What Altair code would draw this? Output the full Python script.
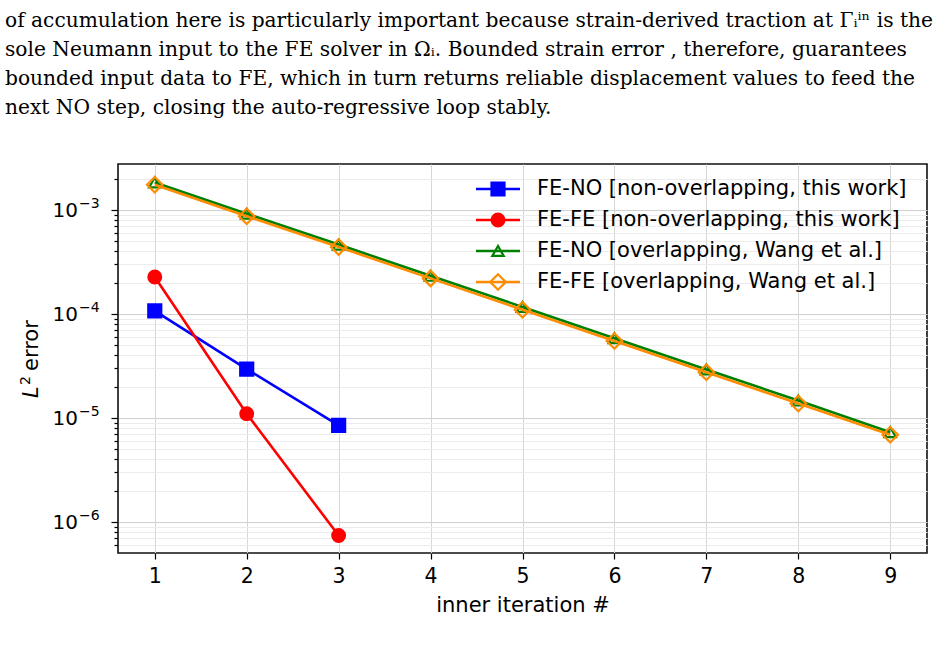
import altair as alt
import pandas as pd

# ---- data -----------------------------------------------------------------
SERIES = [
    "FE-NO [non-overlapping, this work]",
    "FE-FE [non-overlapping, this work]",
    "FE-NO [overlapping, Wang et al.]",
    "FE-FE [overlapping, Wang et al.]",
]
iters_short = [1, 2, 3]
iters_long = [1, 2, 3, 4, 5, 6, 7, 8, 9]

fe_no_nonoverlap = [1.07e-4, 2.95e-5, 8.5e-6]
fe_fe_nonoverlap = [2.27e-4, 1.1e-5, 7.4e-7]
fe_no_overlap = [1.84e-3, 9.2e-4, 4.65e-4, 2.33e-4, 1.17e-4, 5.85e-5, 2.93e-5, 1.47e-5, 7.3e-6]
fe_fe_overlap = [1.75e-3, 8.7e-4, 4.4e-4, 2.2e-4, 1.1e-4, 5.5e-5, 2.75e-5, 1.38e-5, 6.9e-6]

series_data = [
    (SERIES[0], iters_short, fe_no_nonoverlap),
    (SERIES[1], iters_short, fe_fe_nonoverlap),
    (SERIES[2], iters_long, fe_no_overlap),
    (SERIES[3], iters_long, fe_fe_overlap),
]

# styling per series
COLORS = ["#0000ff", "#ff0000", "#008000", "#ff8c00"]
FILLS = ["#0000ff", "#ff0000", "transparent", "transparent"]
SHAPES = ["square", "circle", "triangle-up", "diamond"]
SIZES = [169, 161, 130, 240]

PARAGRAPH = [
    "of accumulation here is particularly important because strain-derived traction at \u0393\u1d62\u2071\u207f is the",
    "sole Neumann input to the FE solver in \u03a9\u1d62.  Bounded strain error , therefore, guarantees",
    "bounded input data to FE, which in turn returns reliable displacement values to feed the",
    "next NO step, closing the auto-regressive loop stably.",
]

# decade labels on the log axis: value and exponent text
decade_exp = [-3, -4, -5, -6]
decade_val = [1e-3, 1e-4, 1e-5, 1e-6]

# minor + major tick positions for the log axis
y_ticks = [m * 10.0 ** k for k in range(-7, -2) for m in range(1, 10)]
y_ticks = [v for v in y_ticks if 5.03e-7 <= v <= 2.77e-3]

FONT = "DejaVu Sans"
IS_MAJOR = "abs(log(datum.value)/LN10 - round(log(datum.value)/LN10)) < 0.001"

# ---- axes -------------------------------------------------------------------
x_axis = alt.Axis(
    values=iters_long, format="d", title="inner iteration #",
    labelFont=FONT, labelFontSize=20.5, labelColor="black", labelPadding=7,
    titleFont=FONT, titleFontSize=21, titleFontWeight="normal", titleColor="black",
    titlePadding=8, tickColor="black", tickSize=6, tickWidth=1.2,
    domain=False, grid=True, gridColor="#d6d6d6", gridWidth=1,
)
y_axis = alt.Axis(
    values=y_ticks, title=None, labels=False, tickColor="black",
    tickSize={"condition": {"test": IS_MAJOR, "value": 7}, "value": 4},
    tickWidth=1.2, domain=False, grid=True,
    gridColor={"condition": {"test": IS_MAJOR, "value": "#d0d0d0"}, "value": "#ececec"},
    gridWidth=1,
)

x_enc = alt.X("iter:Q", scale=alt.Scale(domain=[0.6, 9.4], nice=False, zero=False), axis=x_axis)
y_scale = alt.Scale(type="log", domain=[5.03e-7, 2.77e-3], nice=False)
y_enc = alt.Y("err:Q", scale=y_scale, axis=y_axis)

# ---- one line + markers per series, drawn in series order ------------------
layers = []
for i, (name, xs, ys) in enumerate(series_data):
    df = pd.DataFrame({"iter": xs, "err": ys, "series": name})
    base = alt.Chart(df).encode(x=x_enc, y=y_enc)
    layers.append(base.mark_line(strokeWidth=2.6, color=COLORS[i]))
    layers.append(
        base.mark_point(
            shape=SHAPES[i], size=SIZES[i], fill=FILLS[i], stroke=COLORS[i],
            strokeWidth=2.2, opacity=1, filled=False,
        )
    )

# decade tick labels written as base 10 with a raised exponent
dec_df = pd.DataFrame({"err": decade_val, "exp": [f"\u2212{-e}" for e in decade_exp]})
dec_base = alt.Chart(dec_df).encode(y=alt.Y("err:Q", scale=y_scale, axis=y_axis))
layers.append(
    dec_base.mark_text(align="right", baseline="middle", font=FONT, fontSize=20,
                       color="black", dy=1).encode(x=alt.value(-40), text=alt.value("10"))
)
layers.append(
    dec_base.mark_text(align="left", baseline="middle", font=FONT, fontSize=14,
                       color="black", dy=-6).encode(x=alt.value(-39), text="exp:N")
)

# y-axis title: italic L, superscript 2, then "error"
one = pd.DataFrame({"k": [0]})
layers.append(
    alt.Chart(one).mark_text(text="L", angle=270, align="left", baseline="alphabetic",
                             font=FONT, fontSize=21, fontStyle="italic", color="black")
    .encode(x=alt.value(-80), y=alt.value(234))
)
layers.append(
    alt.Chart(one).mark_text(text="2", angle=270, align="left", baseline="alphabetic",
                             font=FONT, fontSize=14, color="black")
    .encode(x=alt.value(-88), y=alt.value(221))
)
layers.append(
    alt.Chart(one).mark_text(text="error", angle=270, align="left", baseline="alphabetic",
                             font=FONT, fontSize=21, color="black")
    .encode(x=alt.value(-80), y=alt.value(207))
)
main = alt.layer(*layers)

# ---- legend drawn inside the plot, upper right ------------------------------
leg_df = pd.DataFrame({"series": SERIES})
leg_y = alt.Y("series:N", scale=alt.Scale(type="point", domain=SERIES, range=[25, 118], padding=0), axis=None)
leg_layers = []
for i, name in enumerate(SERIES):
    row = alt.Chart(pd.DataFrame({"series": [name]})).encode(y=leg_y)
    leg_layers.append(
        row.mark_rule(strokeWidth=2.6, color=COLORS[i]).encode(x=alt.value(358), x2=alt.value(402))
    )
    leg_layers.append(
        row.mark_point(
            shape=SHAPES[i], size=SIZES[i], fill=FILLS[i], stroke=COLORS[i],
            strokeWidth=2.2, opacity=1, filled=False,
        ).encode(x=alt.value(380))
    )
leg_layers.append(
    alt.Chart(leg_df).mark_text(
        align="left", baseline="middle", font=FONT, fontSize=21, color="black"
    ).encode(x=alt.value(419), y=leg_y, text="series:N")
)
legend = alt.layer(*leg_layers)

chart = (
    alt.layer(main, legend)
    .resolve_scale(y="independent")
    .properties(
        width=809,
        height=389,
        autosize=alt.AutoSizeParams(type="none"),
        padding={"left": 118, "top": 164, "right": 21, "bottom": 99},
        background="white",
        title=alt.TitleParams(
            text=PARAGRAPH, anchor="start", frame="group", dx=-113, offset=30,
            font="DejaVu Serif", fontSize=20.2, fontWeight="normal",
            lineHeight=29, color="black", baseline="alphabetic",
        ),
    )
    .configure_view(stroke="#111111", strokeWidth=1.6)
)

chart.save("out.html", embed_options={"renderer": "svg", "actions": False})
